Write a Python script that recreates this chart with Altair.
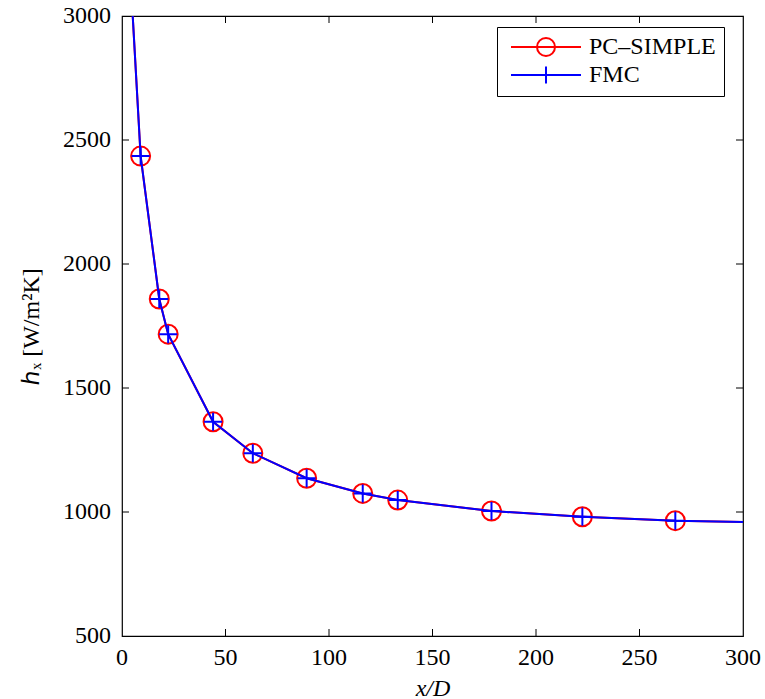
import altair as alt
import pandas as pd

# ---- data ----
x_pts = [9.0, 18.0, 22.3, 44.0, 63.2, 89.2, 116.3, 133.2, 178.5, 222.4, 267.3]
pc_simple = [2435, 1859, 1717, 1364, 1237, 1136, 1075, 1048, 1004, 981, 965]
fmc = [2435, 1859, 1717, 1364, 1237, 1136, 1075, 1048, 1004, 981, 965]
# line continues beyond the visible axes (clipped)
x_line = [4.5] + x_pts + [320]
pc_line = [3100] + pc_simple + [957]
fmc_line = [3100] + fmc + [957]
series = ["PC\u2013SIMPLE", "FMC"]
x_tick_vals = [0, 50, 100, 150, 200, 250, 300]
y_tick_vals = [500, 1000, 1500, 2000, 2500, 3000]
x_inner_ticks = [50, 100, 150, 200, 250]
y_inner_ticks = [1000, 1500, 2000, 2500]

RED = "#ff0000"
BLUE = "#0000ff"
FONT = "Liberation Serif"
W, H = 621, 620
TL = 7  # inward tick length
LBL = 24

PLUS = "M-1,0H1M0,-1V1"
LEG_CIRCLE = "M-3.5,0H3.5M-0.9,0A0.9,0.9 0 1,0 0.9,0A0.9,0.9 0 1,0 -0.9,0"
LEG_PLUS = "M-3.5,0H3.5M0,-0.85V0.85"

xs = alt.Scale(domain=[0, 300], nice=False, zero=False)
ys = alt.Scale(domain=[500, 3000], nice=False, zero=False)

AX_STYLE = dict(tickSize=0, domain=False, grid=False, labels=False, ticks=False,
                titleFont=FONT, titleFontWeight="normal", titleColor="black")

x_axis = alt.Axis(values=x_tick_vals, title="x/D", titleFontStyle="italic",
                  titleFontSize=24, titlePadding=40, **AX_STYLE)
y_axis = alt.Axis(values=y_tick_vals, title="\u210e\u2093   [W/m\u00b2K]",
                  titleFontSize=24, titlePadding=79, **AX_STYLE)

df_pc_line = pd.DataFrame({"x": x_line, "y": pc_line})
df_fmc_line = pd.DataFrame({"x": x_line, "y": fmc_line})
df_pc_pts = pd.DataFrame({"x": x_pts, "y": pc_simple})
df_fmc_pts = pd.DataFrame({"x": x_pts, "y": fmc})

X = alt.X("x:Q", scale=xs, axis=x_axis)
Y = alt.Y("y:Q", scale=ys, axis=y_axis)

pc_l = alt.Chart(df_pc_line).mark_line(color=RED, strokeWidth=2, clip=True).encode(x=X, y=Y)
pc_p = alt.Chart(df_pc_pts).mark_point(shape="circle", size=361, filled=False, color=RED,
                                       strokeWidth=2, opacity=1).encode(x=X, y=Y)
fmc_l = alt.Chart(df_fmc_line).mark_line(color=BLUE, strokeWidth=2, clip=True).encode(x=X, y=Y)
fmc_p = alt.Chart(df_fmc_pts).mark_point(shape=PLUS, size=324, filled=False, color=BLUE,
                                         strokeWidth=2, opacity=1).encode(x=X, y=Y)

legend_df = pd.DataFrame({"series": series, "v": [0, 0]})
leg = alt.Chart(legend_df).transform_filter("datum.v > 1").mark_point(
    filled=False, strokeWidth=2, opacity=1).encode(
    color=alt.Color("series:N", scale=alt.Scale(domain=series, range=[RED, BLUE]),
                    legend=alt.Legend(title=None)),
    shape=alt.Shape("series:N", scale=alt.Scale(domain=series, range=[LEG_CIRCLE, LEG_PLUS]),
                    legend=alt.Legend(title=None)),
)

# inward tick marks on all four sides
df_xt = pd.DataFrame({"x": x_inner_ticks})
df_yt = pd.DataFrame({"y": y_inner_ticks})
t_bottom = alt.Chart(df_xt).mark_rule(color="black", strokeWidth=1).encode(
    x=X, y=alt.value(H), y2=alt.value(H - TL))
t_top = alt.Chart(df_xt).mark_rule(color="black", strokeWidth=1).encode(
    x=X, y=alt.value(0), y2=alt.value(TL))
t_left = alt.Chart(df_yt).mark_rule(color="black", strokeWidth=1).encode(
    y=Y, x=alt.value(0), x2=alt.value(TL))
t_right = alt.Chart(df_yt).mark_rule(color="black", strokeWidth=1).encode(
    y=Y, x=alt.value(W), x2=alt.value(W - TL))

# tick labels as text (Times-like serif)
df_xl = pd.DataFrame({"x": x_tick_vals})
df_yl = pd.DataFrame({"y": y_tick_vals})
x_labels = alt.Chart(df_xl).mark_text(font=FONT, fontSize=LBL, color="black",
                                      align="center", baseline="middle").encode(
    x=X, y=alt.value(H + 22), text=alt.Text("x:Q", format="d"))
y_labels = alt.Chart(df_yl).mark_text(font=FONT, fontSize=LBL, color="black",
                                      align="right", baseline="middle").encode(
    y=Y, x=alt.value(-11), text=alt.Text("y:Q", format="d"))

chart = alt.layer(pc_l, pc_p, fmc_l, fmc_p, t_bottom, t_top, t_left, t_right,
                  x_labels, y_labels, leg).properties(
    width=W, height=H,
    autosize=alt.AutoSizeParams(type="none"),
    padding={"left": 122, "top": 16, "right": 22, "bottom": 63},
    background="white",
).configure_view(stroke="black", strokeWidth=1.2).configure_legend(
    orient="none", legendX=375, legendY=11,
    strokeColor="black", fillColor="white", padding=8,
    symbolSize=400, symbolStrokeWidth=2, symbolOffset=29, labelOffset=31,
    labelFont=FONT, labelFontSize=24, labelColor="black", rowPadding=2,
    labelLimit=300, cornerRadius=0,
)

chart.save("out.html", embed_options={"renderer": "svg", "actions": False})
